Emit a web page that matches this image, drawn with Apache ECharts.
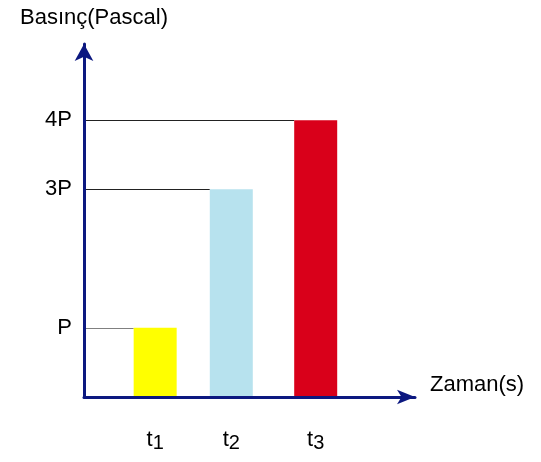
<!DOCTYPE html>
<html>
<head>
<meta charset="utf-8">
<script src="https://cdn.jsdelivr.net/npm/echarts@6/dist/echarts.min.js"></script>
<style>
  html, body { margin: 0; padding: 0; background: #fff; }
  #chart { width: 541px; height: 462px; }
</style>
</head>
<body>
<div id="chart"></div>
<script>
// Moments t1, t2, t3: subscript, position on the time axis, pressure in units of P
const moments = ['1', '2', '3'];
const times = [2.15, 4.45, 7.0];
const pressures = [1, 3, 4];
// Pressure axis labels keyed by value (in units of P)
const pressureTicks = { 1: 'P', 3: '3P', 4: '4P' };

const barColors = ['#ffff00', '#b7e2ee', '#d9001a'];
const guideColors = ['#808080', '#222222', '#222222'];
const FONT = 'Liberation Sans';
const AXIS = '#0c1880';
const BAR_W = 43;

const chart = echarts.init(document.getElementById('chart'), null, { renderer: 'canvas' });

chart.setOption({
  animation: false,
  grid: { left: 84, right: 126, top: 44, bottom: 65 },
  xAxis: {
    type: 'value', min: 0, max: 10,
    name: 'Zaman(s)', nameLocation: 'end', nameGap: 15,
    nameTextStyle: { fontFamily: FONT, fontSize: 22, color: '#000', verticalAlign: 'bottom', lineHeight: 24, align: 'left' },
    axisLine: { show: true, onZero: false, lineStyle: { color: AXIS, width: 3 }, symbol: ['none', 'arrow'], symbolSize: [11, 18] },
    axisTick: { show: false },
    axisLabel: { show: false },
    splitLine: { show: false }
  },
  yAxis: {
    type: 'value', min: 0, max: 5.1, interval: 1,
    name: 'Basınç(Pascal)', nameLocation: 'end', nameGap: 15,
    nameTextStyle: { fontFamily: FONT, fontSize: 22, color: '#000', padding: [0, 0, 0, 20] },
    axisLine: { show: true, onZero: false, lineStyle: { color: AXIS, width: 3 }, symbol: ['none', 'arrow'], symbolSize: [14, 17] },
    axisTick: { show: false },
    axisLabel: {
      fontFamily: FONT, fontSize: 22, color: '#000', margin: 12,
      formatter: v => pressureTicks[v] || ''
    },
    splitLine: { show: false }
  },
  series: [{
    type: 'custom',
    z: -1,
    data: times.map((t, i) => [t, pressures[i]]),
    renderItem: (params, api) => {
      const i = params.dataIndex;
      const top = api.coord([api.value(0), api.value(1)]);
      const base = api.coord([api.value(0), 0]);
      const axisX = api.coord([0, api.value(1)])[0];
      const left = top[0] - BAR_W / 2;
      const guideY = Math.round(top[1]) + 0.5;
      return {
        type: 'group',
        children: [
          {
            type: 'line',
            shape: { x1: axisX + 1, y1: guideY, x2: left, y2: guideY },
            style: { stroke: guideColors[i], lineWidth: 1 }
          },
          {
            type: 'rect',
            shape: { x: left, y: top[1], width: BAR_W, height: base[1] - top[1] },
            style: { fill: barColors[i] }
          },
          {
            type: 'text',
            x: top[0], y: base[1] + 43,
            style: {
              text: '{t|t}{n|' + moments[i] + '}',
              align: 'center', verticalAlign: 'middle',
              rich: {
                t: { fontFamily: FONT, fontSize: 22, fill: '#000' },
                n: { fontFamily: FONT, fontSize: 20, fill: '#000', padding: [7, 0, 0, 0] }
              }
            }
          }
        ]
      };
    }
  }]
});
</script>
</body>
</html>
